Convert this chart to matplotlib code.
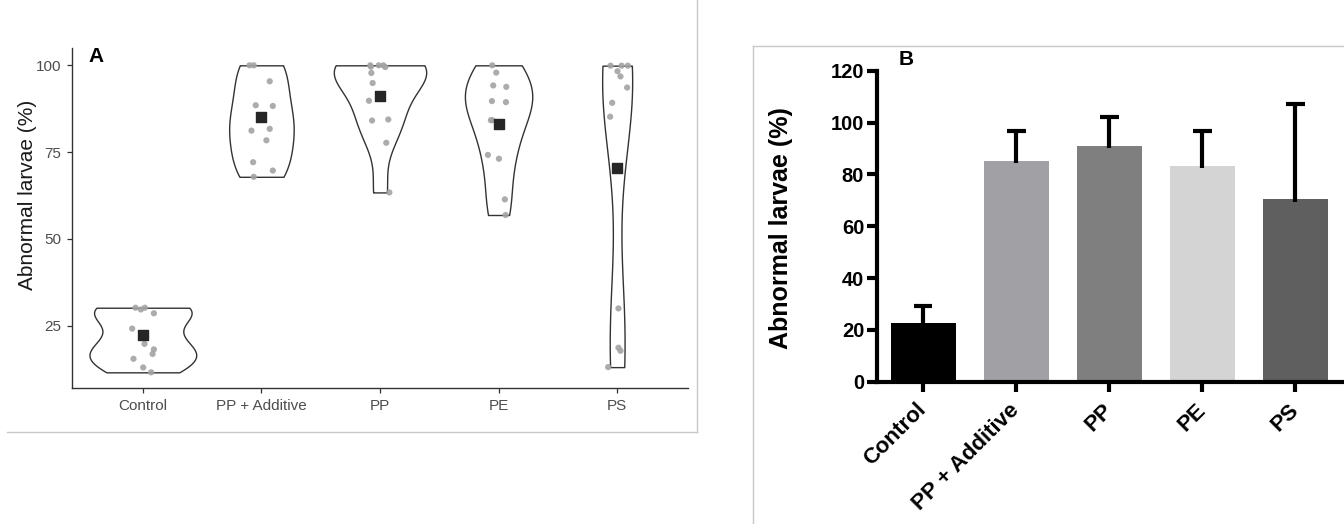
import numpy as np
import matplotlib
matplotlib.use("Agg")
import matplotlib.pyplot as plt
from matplotlib.lines import Line2D

plt.rcParams['font.family'] = ['Liberation Sans', 'DejaVu Sans']

### data
groups = ["Control", "PP + Additive", "PP", "PE", "PS"]

control = [30.2, 29.7, 30.2, 28.6, 24.2, 19.8, 18.2, 16.9, 15.5, 13.0, 11.6]
pp_add = [100.0, 100.0, 95.4, 88.5, 88.3, 81.2, 81.7, 78.4, 72.1, 69.7, 67.9]
pp = [100.0, 99.6, 100.0, 100.0, 99.5, 97.8, 94.9, 89.8, 84.1, 84.4, 77.7, 63.4]
pe = [100.0, 97.9, 94.2, 93.8, 89.7, 89.4, 84.2, 84.2, 74.2, 73.1, 61.4, 56.9]
ps = [99.9, 99.9, 99.9, 98.3, 96.8, 93.6, 89.2, 85.2, 30.0, 18.7, 17.8, 13.1]

# horizontal jitter of each dot as seen in the picture (category units)
control_jit = [-0.062, -0.017, 0.017, 0.093, -0.090, 0.014, 0.093, 0.082, -0.079, 0.003, 0.070]
pp_add_jit = [-0.101, -0.065, 0.070, -0.048, 0.096, -0.084, 0.070, 0.042, -0.070, 0.096, -0.065]
pp_jit = [-0.082, -0.076, -0.011, 0.028, 0.045, -0.073, -0.062, -0.093, -0.067, 0.070, 0.053, 0.079]
pe_jit = [-0.053, -0.020, -0.045, 0.065, -0.056, 0.062, -0.065, -0.053, -0.090, 0.003, 0.053, 0.059]
ps_jit = [-0.056, 0.037, 0.090, 0.003, 0.028, 0.084, -0.042, -0.059, 0.011, 0.011, 0.028, -0.076]

violin_means = [22.3, 85.2, 91.1, 83.2, 70.3]

# panel B
bar_means = [22.5, 85.3, 91.1, 83.4, 70.4]
bar_sd = [6.7, 11.6, 11.0, 13.5, 36.9]
bar_colors = ["#000000", "#a1a0a5", "#7f7f7f", "#d4d4d4", "#5f5f5f"]

all_vals = [control, pp_add, pp, pe, ps]
all_jit = [control_jit, pp_add_jit, pp_jit, pe_jit, ps_jit]


def nrd0(x):
    x = np.asarray(x)
    hi = np.std(x, ddof=1)
    q75, q25 = np.percentile(x, [75, 25])
    lo = min(hi, (q75 - q25) / 1.34)
    if lo == 0:
        lo = hi
    return 0.9 * lo * len(x) ** -0.2


def kde(x, grid):
    x = np.asarray(x)
    bw = nrd0(x)
    z = (grid[:, None] - x[None, :]) / bw
    return np.exp(-0.5 * z ** 2).sum(axis=1) / (len(x) * bw * np.sqrt(2 * np.pi))


fig = plt.figure(figsize=(13.44, 5.24), dpi=100)

### Panel A - violins
axA = fig.add_axes([71.7 / 1344, 1 - 388.3 / 524, 616.6 / 1344, 340 / 524])

dens = []
for v in all_vals:
    g = np.linspace(min(v), max(v), 512)
    dens.append((g, kde(v, g)))
dmax = max(d.max() for g, d in dens)

for i, (g, d) in enumerate(dens):
    pos = i + 1
    hw = 0.45 * d / dmax
    axA.fill_betweenx(g, pos - hw, pos + hw, facecolor="white", edgecolor="#333333", lw=1.0, zorder=1)
    xs = pos + np.asarray(all_jit[i])
    axA.scatter(xs, all_vals[i], s=20, color="#a3a3a3", alpha=0.9, edgecolors="none", zorder=2)
    axA.scatter([pos], [violin_means[i]], marker="s", s=62, color="#262626", zorder=3)

axA.set_xlim(0.4, 5.6)
axA.set_ylim(7.0, 104.9)
axA.set_xticks(range(1, 6))
axA.set_xticklabels(groups)
axA.set_yticks([25, 50, 75, 100])
for s in ["top", "right"]:
    axA.spines[s].set_visible(False)
for s in ["left", "bottom"]:
    axA.spines[s].set_color("#333333")
    axA.spines[s].set_linewidth(1.0)
axA.tick_params(colors="#333333", labelcolor="#4d4d4d", labelsize=11, length=3.5, width=0.9, pad=4)
axA.set_ylabel("Abnormal larvae (%)", fontsize=15, color="#1a1a1a")
axA.yaxis.set_label_coords(-0.057, 0.569)
fig.text(88 / 1344, 1 - 62 / 524, "A", fontsize=15, fontweight="bold", va="baseline")

### Panel B - bars
axB = fig.add_axes([876.7 / 1344, 1 - 381.7 / 524, 465 / 1344, 311 / 524])
xb = np.arange(len(groups))
axB.bar(xb, bar_means, width=0.7, color=bar_colors, zorder=1)
tops = np.array(bar_means) + np.array(bar_sd)
axB.vlines(xb, np.array(bar_means) - 1.0, tops, color="black", lw=3, zorder=2)
axB.hlines(tops, xb - 0.1, xb + 0.1, color="black", lw=3, zorder=2)
axB.set_xlim(-0.5, 4.5)
axB.set_ylim(0, 120)
axB.set_yticks(range(0, 121, 20))
axB.set_xticks(xb)
axB.set_xticklabels(groups, rotation=45, ha="right", va="center", rotation_mode="anchor")
for s in ["top", "right"]:
    axB.spines[s].set_visible(False)
for s in ["left", "bottom"]:
    axB.spines[s].set_linewidth(3)
axB.tick_params(length=7, width=3, labelsize=14.5, pad=2)
axB.tick_params(axis="x", pad=11, labelsize=16)
for lab in axB.get_xticklabels() + axB.get_yticklabels():
    lab.set_fontweight("bold")
axB.set_ylabel("Abnormal larvae (%)", fontsize=18, fontweight="bold")
axB.yaxis.set_label_coords(-0.18, 0.494)
fig.text(899 / 1344, 1 - 65 / 524, "B", fontsize=15, fontweight="bold", va="baseline")

### frames of the two pasted panels
frame = "#c8c8c8"
fig.add_artist(Line2D([7 / 1344, 697 / 1344], [1 - 432 / 524, 1 - 432 / 524], color=frame, lw=1))
fig.add_artist(Line2D([697 / 1344, 697 / 1344], [1 - 432 / 524, 1.0], color=frame, lw=1))
fig.add_artist(Line2D([753 / 1344, 1.0], [1 - 45.7 / 524, 1 - 45.7 / 524], color=frame, lw=1))
fig.add_artist(Line2D([753 / 1344, 753 / 1344], [0.0, 1 - 45.7 / 524], color=frame, lw=1))

fig.savefig("out.png", dpi=100)
